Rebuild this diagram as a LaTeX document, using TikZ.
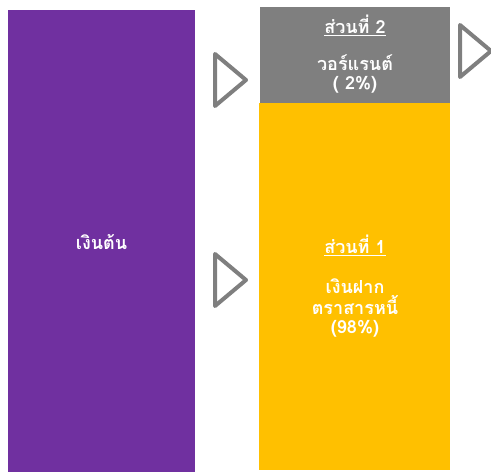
\documentclass[tikz,border=0pt]{standalone}
\usepackage{fontspec}
\newfontfamily\thaifont[Script=Thai]{Loma}
\usetikzlibrary{positioning,calc}
\definecolor{principalpurple}{HTML}{7030A0}
\definecolor{warrantgray}{HTML}{7F7F7F}
\definecolor{bondyellow}{HTML}{FFC000}
\newcommand*{\picW}{491}
\newcommand*{\picH}{472}

\begin{document}
\begin{tikzpicture}[x=1pt,y=-1pt,
    block/.style={inner sep=0pt,outer sep=0pt,anchor=north west},
    label/.style={text=white,font=\thaifont\bfseries\fontsize{18}{19}\selectfont,align=center,inner sep=0pt},
    triarrow/.style={draw=warrantgray,line width=4pt,line join=round}]
    \useasboundingbox (0,0) rectangle (\picW,\picH);
    % blocks
    \node[block,fill=principalpurple,minimum width=187pt,minimum height=462pt] (principal) at (8,10) {};
    \node[block,fill=bondyellow,minimum width=191pt,minimum height=367pt] (bond) at (259,103) {};
    \node[block,fill=warrantgray,minimum width=190pt,minimum height=96pt] (warrant) at (260,7) {};
    % arrows
    \foreach \tx/\ty in {215/54,215/254,460/25} {
      \draw[triarrow] (\tx,\ty) -- ++(0,52) -- ++(31,-26) -- cycle;
    }
    % texts
    \node[label] (principaltext) at (101.5,242) {เงินต้น};
    \node[label] (warranttitle) at (355,25) {\underline{ส่วนที่ 2}};
    \node[label] (warranttext) at (355,74) {วอร์แรนต์\\( 2\%)};
    \node[label] (bondtitle) at (355,245) {\underline{ส่วนที่ 1}};
    \node[label] (bondtext) at (355,308) {เงินฝาก\\ตราสารหนี้\\(98\%)};
\end{tikzpicture}
\end{document}
